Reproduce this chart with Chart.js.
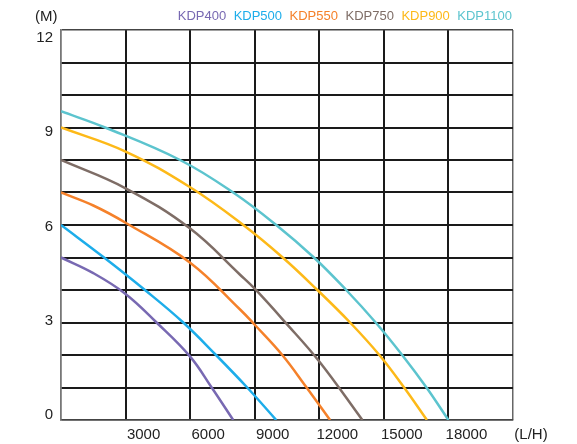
<!DOCTYPE html>
<html><head><meta charset="utf-8">
<script src="https://cdn.jsdelivr.net/npm/chart.js@4/dist/chart.umd.min.js"></script>
<style>html,body{margin:0;padding:0;background:#fff}</style>
</head><body>
<canvas id="c" width="577" height="444"></canvas>
<script>
const seriesNames = ['KDP400','KDP500','KDP550','KDP750','KDP900','KDP1100'];
const seriesColors = ['#7869B2','#1DADEA','#F5812A','#7E6D66','#FDB918','#5CC4CE'];

const kdp400Flow = [0, 1500, 3000, 4440, 6000, 7000, 8000];
const kdp400Head = [5, 4.52, 3.88, 3.0, 1.95, 1.0, 0];

const kdp500Flow = [0, 2000, 3900, 5680, 7200, 8650, 10000];
const kdp500Head = [6, 5, 4, 3, 2, 1, 0];

const kdp550Flow = [0, 1500, 3000, 6000, 8320, 9000, 10280, 11410, 12500];
const kdp550Head = [7, 6.6, 6.07, 4.84, 3.4, 2.93, 2, 1, 0];

const kdp750Flow = [0, 3000, 6000, 8320, 9000, 10400, 12000, 14000];
const kdp750Head = [8, 7.13, 5.89, 4.47, 4.04, 3.02, 1.8, 0];

const kdp900Flow = [0, 3000, 6000, 8470, 10300, 11910, 13430, 14790, 15940, 17000];
const kdp900Head = [9, 8.26, 7.16, 6, 5, 4, 3, 2, 1, 0];

const kdp1100Flow = [0, 2050, 5530, 8000, 10000, 11750, 13250, 14620, 15850, 16980, 18000];
const kdp1100Head = [9.5, 9, 8, 7, 6, 5, 4, 3, 2, 1, 0];

const xTickLabels = ['', '3000', '6000', '9000', '12000', '15000', '18000', '(L/H)'];
const yTickLabelValues = [0, 3, 6, 9, 12];

const flows = [kdp400Flow, kdp500Flow, kdp550Flow, kdp750Flow, kdp900Flow, kdp1100Flow];
const heads = [kdp400Head, kdp500Head, kdp550Head, kdp750Head, kdp900Head, kdp1100Head];

const FONT = '"Liberation Sans", Arial, sans-serif';

const datasets = seriesNames.map((name, i) => ({
  label: name,
  data: flows[i].map((f, j) => ({x: f, y: heads[i][j]})),
  borderColor: seriesColors[i],
  backgroundColor: seriesColors[i],
  borderWidth: 2.5,
  pointRadius: 0,
  fill: false,
  tension: 0.4
}));

const extras = {
  id: 'extras',
  afterLayout(chart) {
    const lg = chart.legend;
    if (lg) { lg.top += 2.5; lg.bottom += 2.5; }
  },
  afterDraw(chart) {
    const ctx = chart.ctx;
    ctx.save();
    ctx.font = '15px ' + FONT;
    ctx.fillStyle = '#222';
    ctx.textAlign = 'left';
    ctx.textBaseline = 'middle';
    ctx.fillText('(M)', 35, 17);
    ctx.restore();
  }
};

new Chart(document.getElementById('c'), {
  type: 'line',
  data: { datasets },
  plugins: [extras],
  options: {
    responsive: false,
    animation: false,
    layout: { padding: { top: 6, right: 64, bottom: 0, left: 0 } },
    plugins: {
      tooltip: { enabled: false },
      legend: {
        position: 'top',
        align: 'end',
        labels: {
          boxWidth: 0,
          padding: 1,
          font: { size: 13, family: FONT },
          generateLabels(chart) {
            const items = Chart.defaults.plugins.legend.labels.generateLabels(chart);
            return items.map(it => Object.assign(it, {
              fontColor: seriesColors[it.datasetIndex],
              fillStyle: 'rgba(0,0,0,0)',
              strokeStyle: 'rgba(0,0,0,0)',
              lineWidth: 0
            }));
          }
        }
      }
    },
    scales: {
      x: {
        type: 'linear',
        min: 0, max: 21000,
        afterFit(s) { s.height = 24; },
        ticks: {
          stepSize: 3000,
          autoSkip: false,
          maxRotation: 0,
          labelOffset: 18,
          padding: 6,
          color: '#222',
          font: { size: 15, family: FONT },
          callback: (v) => xTickLabels[Math.round(v / 3000)]
        },
        grid: {
          drawTicks: false,
          color: c => (c.tick && (c.tick.value === 21000 || c.tick.value === 0)) ? '#666' : '#1a1a1a',
          lineWidth: c => (c.tick && (c.tick.value === 21000 || c.tick.value === 0)) ? 1.5 : 2
        },
        border: { display: true, color: '#444', width: 1.5 }
      },
      y: {
        type: 'linear',
        position: 'left',
        weight: 0,
        min: 0, max: 12,
        afterFit(s) { s.width = 0; },
        ticks: { stepSize: 1, display: false },
        grid: {
          drawTicks: false,
          color: c => (c.tick && (c.tick.value === 12 || c.tick.value === 0)) ? '#444' : '#1a1a1a',
          lineWidth: c => (c.tick && (c.tick.value === 12 || c.tick.value === 0)) ? 1.5 : 2
        },
        border: { display: true, color: '#777', width: 1.5 }
      },
      yLabels: {
        type: 'linear',
        position: 'left',
        weight: 1,
        min: -0.159, max: 12.2546,
        afterFit(s) { s.width = 61; },
        afterBuildTicks(s) { s.ticks = yTickLabelValues.map(v => ({ value: v })); },
        ticks: {
          autoSkip: false,
          padding: 8,
          color: '#222',
          font: { size: 15, family: FONT },
          callback: v => String(v)
        },
        grid: { display: false, drawTicks: false },
        border: { display: false }
      }
    }
  }
});
</script>
</body></html>
